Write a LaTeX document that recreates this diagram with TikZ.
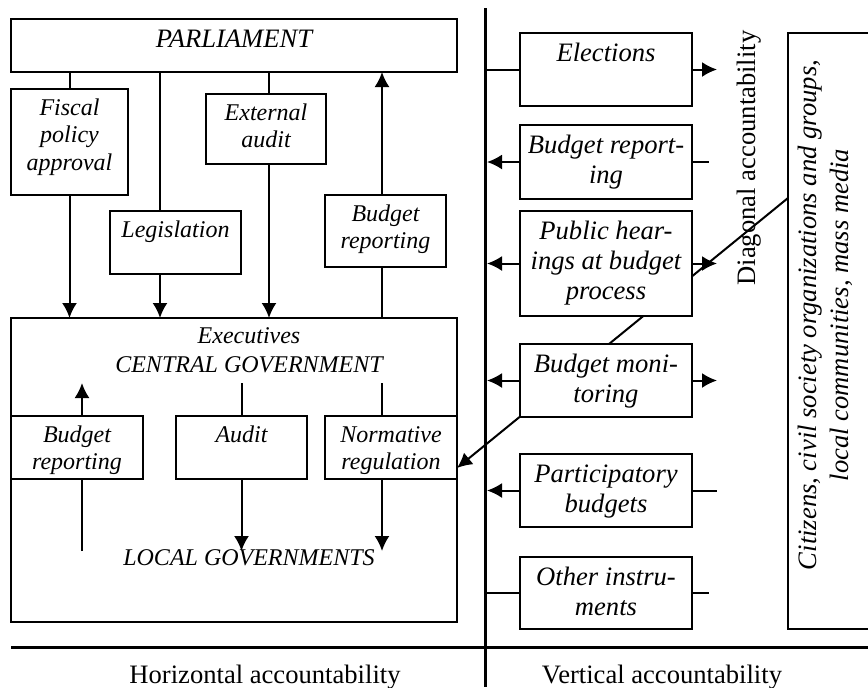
\documentclass[tikz,border=0pt]{standalone}
\usepackage{fontspec}
\setmainfont{Liberation Serif}
\usetikzlibrary{arrows.meta,backgrounds}

\newcommand{\boxtext}[3]{\parbox[c][\dimexpr#2pt/2\relax][t]{\dimexpr#1pt/2\relax}{\centering\vskip3.5pt\strut#3}}

\begin{document}
\begin{tikzpicture}[x=0.5pt,y=-0.5pt,
    font=\fontsize{13.3}{15}\selectfont,
    box/.style={draw,line width=1pt,fill=white,inner sep=0pt,outer sep=0pt,anchor=north west},
    lbox/.style={box,font=\fontsize{12}{13.8}\selectfont\itshape},
    rbox/.style={box,font=\fontsize{13.3}{15}\selectfont\itshape},
    link/.style={line width=1pt},
    arr/.style={line width=1pt,-{Latex[length=7.5pt,width=7.5pt]}},
    divide/.style={line width=1.5pt}]
\clip (0,0) rectangle (868,687);
\useasboundingbox (0,0) rectangle (868,687);

    \coordinate (xleg) at (160,0);
    \coordinate (xext) at (269,0);
    \coordinate (xrep) at (382,0);
    \coordinate (xbre) at (82,0);
    \coordinate (uptip) at (0,383);
    \coordinate (lowtip) at (0,551);
    \coordinate (vl) at (487,0);
    \coordinate (rtip) at (717,0);
    \coordinate (rend) at (709,0);
    \coordinate (dy) at (0,198);
    \coordinate (ey) at (0,468);

% horizontal accountability
    \node[rbox] (parl) at (11,19) {\boxtext{446}{53}{PARLIAMENT}};
    \node[lbox] (fiscal) at (11,89) {\boxtext{117}{106}{Fiscal\\policy\\approval}};
    \node[lbox] (legis) at (110,211) {\boxtext{131}{63}{Legislation}};
    \node[lbox] (extaud) at (206,94) {\boxtext{120}{70}{External\\audit}};
    \node[lbox] (brepP) at (325,195) {\boxtext{121}{72}{Budget\\reporting}};

    \node[lbox] (exec) at (11,318) {\boxtext{446}{304}{}};
    \node[font=\fontsize{12}{14.5}\selectfont\itshape,align=center,inner sep=0pt,anchor=north] (central) at (249,327) {Executives\\CENTRAL GOVERNMENT};
    \node[font=\fontsize{12}{14.5}\selectfont\itshape,inner sep=0pt,anchor=base] (local) at (249,565) {LOCAL GOVERNMENTS};
    \node[lbox] (brepE) at (11,416) {\boxtext{132}{63}{Budget\\reporting}};
    \node[lbox] (audit) at (176,416) {\boxtext{131}{63}{Audit}};
    \node[lbox] (normreg) at (325,416) {\boxtext{132}{63}{Normative\\regulation}};

    \draw[link] (parl.south -| fiscal.north) -- (fiscal.north);
    \draw[arr] (fiscal.south) -- (exec.north -| fiscal.south);
    \draw[link] (parl.south -| xleg) -- (legis.north -| xleg);
    \draw[arr] (legis.south -| xleg) -- (exec.north -| xleg);
    \draw[link] (parl.south -| xext) -- (extaud.north -| xext);
    \draw[arr] (extaud.south -| xext) -- (exec.north -| xext);
    \draw[link] (exec.north -| xrep) -- (brepP.south -| xrep);
    \draw[arr] (brepP.north -| xrep) -- (parl.south -| xrep);

    \draw[link] (lowtip -| xbre) -- (brepE.south -| xbre);
    \draw[arr] (brepE.north -| xbre) -- (uptip -| xbre);
    \draw[link] (uptip -| audit.north) -- (audit.north);
    \draw[arr] (audit.south) -- (lowtip -| audit.south);
    \draw[link] (uptip -| xrep) -- (normreg.north -| xrep);
    \draw[arr] (normreg.south -| xrep) -- (lowtip -| xrep);

% vertical accountability
    \node[rbox] (elect) at (520,33) {\boxtext{172}{73}{Elections}};
    \node[rbox] (brepV) at (520,125) {\boxtext{172}{74}{Budget report-\\ing}};
    \node[rbox] (hear) at (520,211) {\boxtext{172}{105}{Public hear-\\ings at budget\\process}};
    \node[rbox] (monit) at (520,344) {\boxtext{172}{73}{Budget moni-\\toring}};
    \node[rbox] (partic) at (520,454) {\boxtext{172}{73}{Participatory\\budgets}};
    \node[rbox] (other) at (520,557) {\boxtext{172}{72}{Other instru-\\ments}};
    \node[box] (citiz) at (788,33) {\boxtext{100}{596}{}};
    \node[font=\fontsize{13.3}{16}\selectfont\itshape,align=center,rotate=90] (citiztext) at (825,315)
        {Citizens, civil society organizations and groups,\\local communities, mass media};
    \node[rotate=90,inner sep=0pt] (diag) at (749,158) {Diagonal accountability};

    \draw[link] (elect.west -| vl) -- (elect.west);
    \draw[arr] (elect.east) -- (elect.east -| rtip);
    \draw[arr] (brepV.west) -- (brepV.west -| vl);
    \draw[link] (brepV.east) -- (brepV.east -| rend);
    \draw[arr] (hear.west) -- (hear.west -| vl);
    \draw[arr] (hear.east) -- (hear.east -| rtip);
    \draw[arr] (monit.west) -- (monit.west -| vl);
    \draw[arr] (monit.east) -- (monit.east -| rtip);
    \draw[arr] (partic.west) -- (partic.west -| vl);
    \draw[link] (partic.east) -- (partic.east -| rtip);
    \draw[link] (other.west -| vl) -- (other.west);
    \draw[link] (other.east) -- (other.east -| rend);

    \begin{pgfonlayer}{background}
    \draw[arr] (citiz.west |- dy) -- (normreg.east |- ey);
    \end{pgfonlayer}

    \draw[divide] (485,8) -- (485,687);
    \draw[divide] (11,647) -- (868,647);
    \node[anchor=base] (horiz) at (265,683) {Horizontal accountability};
    \node[anchor=base] (vert) at (662,683) {Vertical accountability};
\end{tikzpicture}
\end{document}
